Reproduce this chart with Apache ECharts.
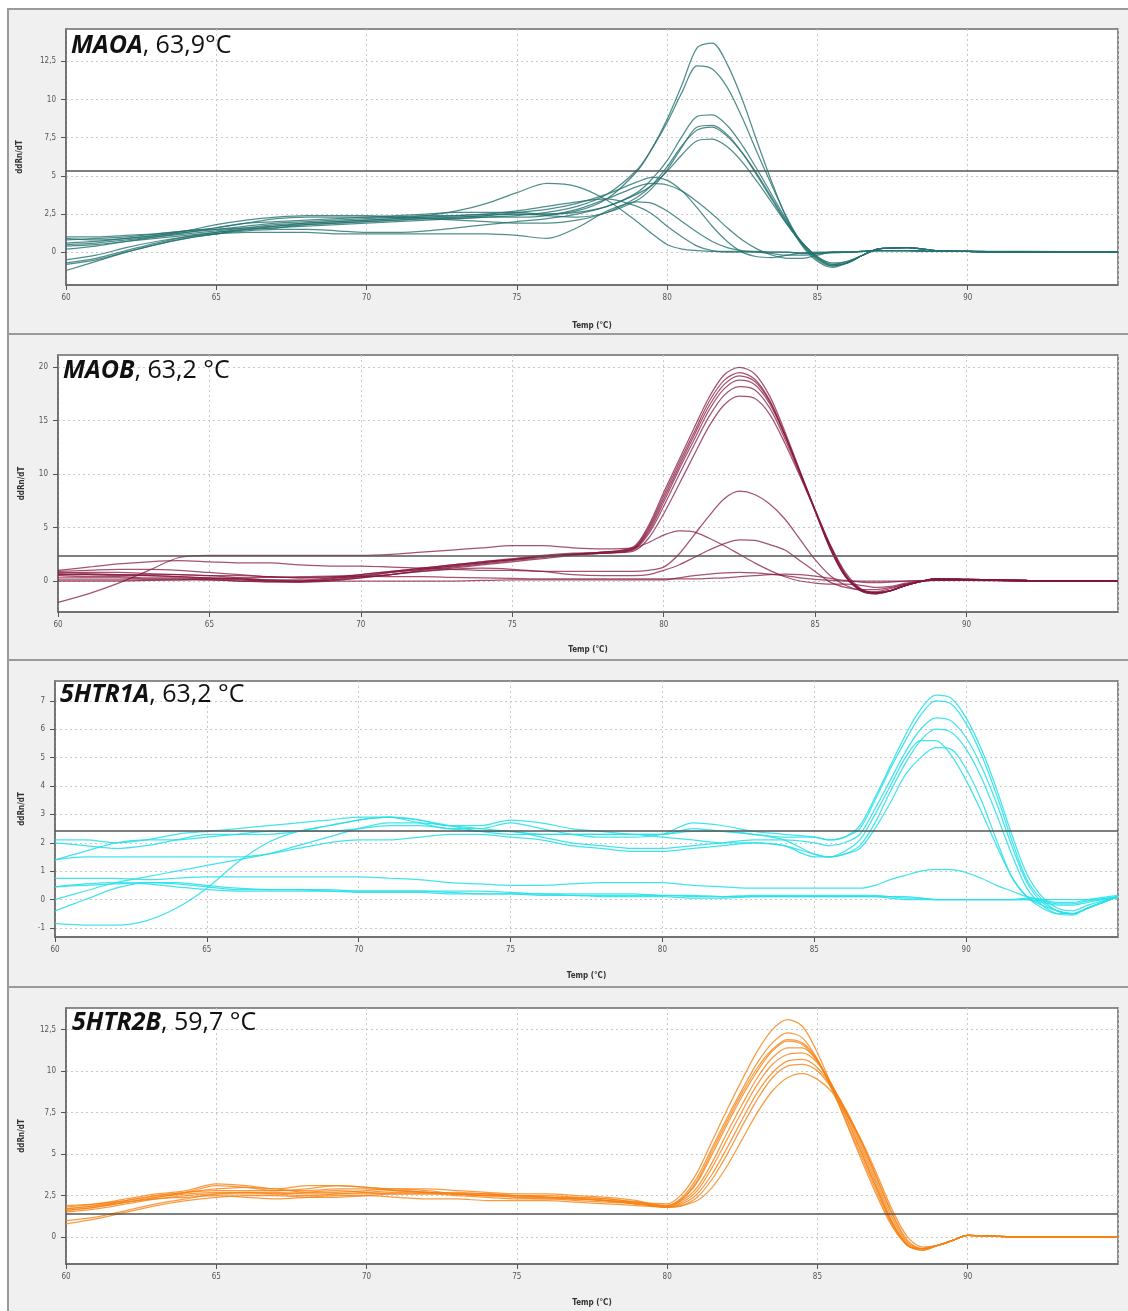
<!DOCTYPE html>
<html><head><meta charset="utf-8">
<script src="https://cdn.jsdelivr.net/npm/echarts@6/dist/echarts.min.js"></script>
<style>html,body{margin:0;padding:0;background:#fff}#c{width:1128px;height:1311px}</style>
</head><body><div id="c"></div>
<script>
// ---------------- DATA ----------------
// Panel 1: MAOA
const T1 = [60,61,62,63,64,65,66,67,68,69,70,71,72,73,74,75,76,77,78,79,79.5,80,80.5,81,81.5,82,82.5,83,83.5,84,84.5,85,85.5,86,86.5,87,88,89,90,92,95];
const maoaCurves = [
 [-0.7,-0.4,0.1,0.6,1.0,1.3,1.5,1.7,1.9,2.0, 2.1,2.2,2.3,2.3,2.4,2.5,2.5,2.7,3.5,5.3, 6.8,8.7,11.0,13.4,13.7,12.3,10.0,7.2,4.5,2.1, 0.4,-0.6,-1.0,-0.7,-0.2,0.2, 0.3,0.1,0.05,0.05,0.0],
 [-1.2,-0.6,0.0,0.5,0.9,1.2,1.5,1.6,1.7,1.8, 1.9,2.0,2.1,2.2,2.3,2.4,2.6,3.0,3.8,5.4, 6.8,8.5,10.5,12.2,12.0,10.8,8.8,6.5,4.3,2.2, 0.5,-0.5,-0.9,-0.7,-0.2,0.2, 0.3,0.1,0.05,0.0,0.0],
 [0.2,0.4,0.7,1.0,1.3,1.6,1.9,2.0,2.1,2.2, 2.3,2.4,2.5,2.6,2.6,2.6,2.5,2.6,3.0,3.9, 4.8,6.0,7.6,8.9,9.0,8.3,7.0,5.4,3.7,2.0, 0.6,-0.4,-0.9,-0.7,-0.2,0.2, 0.3,0.1,0.05,0.0,0.0],
 [0.9,0.8,0.9,1.1,1.3,1.5,1.7,1.9,2.0,2.1, 2.2,2.3,2.4,2.4,2.5,2.5,2.4,2.3,2.6,3.4, 4.2,5.4,6.9,8.2,8.3,7.7,6.5,5.0,3.4,1.8, 0.5,-0.4,-0.8,-0.7,-0.2,0.2, 0.3,0.1,0.05,0.0,0.0],
 [0.6,0.7,0.9,1.1,1.4,1.8,2.1,2.3,2.4,2.4, 2.4,2.3,2.2,2.1,2.0,1.9,1.9,2.1,2.6,3.6, 4.4,5.6,7.0,8.0,8.2,7.6,6.5,5.1,3.5,1.9, 0.6,-0.3,-0.8,-0.6,-0.2,0.2, 0.3,0.1,0.05,0.0,0.0],
 [-0.8,-0.5,0.0,0.5,0.9,1.2,1.4,1.5,1.5,1.4, 1.3,1.3,1.4,1.6,1.8,2.0,2.2,2.5,3.0,3.8, 4.4,5.3,6.4,7.3,7.4,6.9,5.9,4.6,3.2,1.8, 0.6,-0.3,-0.7,-0.6,-0.2,0.2, 0.3,0.1,0.05,0.0,0.0],
 [1.0,1.0,1.1,1.2,1.4,1.6,1.9,2.2,2.3,2.3, 2.3,2.3,2.4,2.7,3.2,3.9,4.5,4.3,3.4,2.0, 1.2,0.5,0.2,0.1,0.05,0.05,0.05,0.05,0.0,0.0, -0.1,-0.1,-0.05,0.0,0.05,0.1, 0.1,0.05,0.05,0.0,0.0],
 [0.4,0.5,0.7,0.9,1.1,1.3,1.5,1.6,1.8,1.9, 2.0,2.1,2.2,2.3,2.4,2.6,2.8,3.2,3.8,4.6, 4.9,4.7,4.0,2.9,1.7,0.7,0.0,-0.3,-0.35,-0.2, -0.05,0.0,0.0,0.0,0.05,0.1, 0.1,0.05,0.05,0.0,0.0],
 [0.8,0.9,1.0,1.2,1.4,1.5,1.6,1.7,1.8,1.9, 2.0,2.1,2.2,2.2,2.3,2.3,2.4,2.8,3.5,4.3, 4.5,4.4,4.0,3.3,2.5,1.6,0.8,0.2,-0.2,-0.4, -0.4,-0.2,0.0,0.0,0.05,0.1, 0.1,0.05,0.05,0.0,0.0],
 [0.5,0.6,0.8,1.0,1.2,1.4,1.6,1.8,1.9,2.0, 2.1,2.2,2.3,2.4,2.5,2.7,3.0,3.3,3.5,3.0, 2.5,1.7,1.0,0.4,0.1,0.0,0.0,0.0,0.0,0.0, -0.05,-0.05,0.0,0.0,0.05,0.1, 0.1,0.05,0.05,0.0,0.0],
 [-0.5,-0.2,0.3,0.7,1.0,1.2,1.3,1.3,1.3,1.2, 1.2,1.2,1.2,1.2,1.2,1.1,0.9,1.6,2.7,3.3, 3.2,2.7,2.0,1.3,0.7,0.3,0.1,0.0,-0.1,-0.2, -0.2,-0.1,0.0,0.0,0.05,0.1, 0.1,0.05,0.05,0.0,0.0]
];

// Panel 2: MAOB
const T2 = [60,61,62,63,64,65,66,67,68,69,70,71,72,73,74,75,76,77,78,79,79.5,80,80.5,81,81.5,82,82.5,83,83.5,84,84.5,85,85.5,86,86.5,87,87.5,88,89,90,92,95];
const maobCurves = [
 [0.8,0.7,0.6,0.5,0.4,0.3,0.2,0.1,0.1,0.3, 0.6,0.9,1.2,1.5,1.8,2.1,2.4,2.6,2.7,3.2, 5.2,8.3,11.3,14.3,17.2,19.3,20.0,19.4,17.3,14.0, 10.3,6.6,3.0,0.4,-0.9,-1.2,-0.9,-0.4, 0.2,0.15,0.05,0.0],
 [0.6,0.6,0.5,0.5,0.4,0.3,0.2,0.0,-0.1,0.1, 0.4,0.8,1.1,1.4,1.7,2.0,2.3,2.5,2.7,3.1, 5.0,8.0,11.0,13.9,16.8,18.8,19.5,18.9,16.9,13.7, 10.1,6.5,3.0,0.4,-0.9,-1.2,-0.9,-0.4, 0.2,0.15,0.05,0.0],
 [0.7,0.8,0.8,0.7,0.6,0.5,0.3,0.1,0.0,0.1, 0.3,0.6,1.0,1.3,1.6,1.9,2.2,2.5,2.6,3.0, 4.8,7.7,10.7,13.6,16.4,18.4,19.2,18.7,16.8,13.7, 10.2,6.6,3.1,0.5,-0.8,-1.1,-0.9,-0.4, 0.2,0.15,0.05,0.0],
 [0.5,0.4,0.4,0.3,0.3,0.2,0.1,0.0,0.0,0.2, 0.5,0.8,1.1,1.4,1.7,2.0,2.3,2.5,2.7,3.0, 4.6,7.4,10.4,13.2,16.0,18.0,18.8,18.4,16.6,13.6, 10.2,6.7,3.3,0.6,-0.8,-1.1,-0.9,-0.4, 0.2,0.15,0.05,0.0],
 [0.9,1.0,1.1,1.1,1.0,0.8,0.6,0.4,0.3,0.4, 0.6,0.9,1.2,1.5,1.8,2.0,2.3,2.5,2.6,2.9, 4.4,7.0,9.9,12.7,15.4,17.4,18.2,17.9,16.2,13.3, 10.0,6.6,3.3,0.6,-0.8,-1.1,-0.9,-0.4, 0.2,0.15,0.05,0.0],
 [0.3,0.3,0.3,0.2,0.2,0.1,0.0,-0.1,-0.1,0.0, 0.3,0.6,0.9,1.2,1.5,1.8,2.1,2.4,2.6,2.8, 4.0,6.3,9.0,11.8,14.5,16.5,17.3,17.1,15.6,12.9, 9.8,6.6,3.4,0.8,-0.7,-1.1,-0.9,-0.4, 0.2,0.15,0.05,0.0],
 [1.0,1.3,1.6,1.8,1.9,1.8,1.7,1.7,1.5,1.4, 1.4,1.3,1.2,1.1,1.0,1.0,0.9,0.9,0.9,0.9, 1.0,1.3,2.5,4.3,6.1,7.7,8.4,8.1,7.2,5.8, 3.9,2.0,0.5,-0.4,-0.9,-1.0,-0.7,-0.3, 0.1,0.1,0.0,0.0],
 [-2.0,-1.2,-0.2,1.0,2.2,2.4,2.4,2.4,2.4,2.4, 2.4,2.5,2.7,2.9,3.1,3.3,3.3,3.1,3.0,3.1, 3.6,4.3,4.7,4.6,4.0,3.3,2.5,1.7,1.0,0.4, 0.0,-0.2,-0.3,-0.3,-0.4,-0.6,-0.5,-0.2, 0.1,0.1,0.0,0.0],
 [0.6,0.6,0.6,0.6,0.6,0.5,0.5,0.4,0.3,0.3, 0.4,0.6,0.9,1.1,1.2,1.1,0.9,0.6,0.5,0.5, 0.6,1.0,1.5,2.2,2.9,3.5,3.85,3.8,3.4,2.9, 1.9,0.9,-0.1,-0.6,-0.8,-0.8,-0.6,-0.3, 0.1,0.1,0.0,0.0],
 [0.1,0.1,0.1,0.1,0.1,0.1,0.0,0.0,0.0,0.0, 0.0,0.0,0.0,0.0,0.05,0.1,0.1,0.1,0.1,0.1, 0.1,0.1,0.3,0.5,0.65,0.75,0.8,0.75,0.65,0.5, 0.3,0.15,0.05,0.0,0.0,0.0,0.0,0.0, 0.05,0.05,0.0,0.0],
 [0.0,0.0,0.0,0.05,0.1,0.2,0.3,0.35,0.4,0.45, 0.45,0.4,0.4,0.35,0.3,0.25,0.2,0.2,0.2,0.2, 0.2,0.2,0.2,0.2,0.25,0.3,0.4,0.5,0.6,0.65, 0.6,0.45,0.25,0.05,-0.1,-0.15,-0.1,0.0, 0.05,0.05,0.0,0.0]
];

// Panel 3: 5HTR1A
const T3 = [60,61,62,63,64,65,66,67,68,69,70,71,72,73,74,75,76,77,78,79,80,81,82,83,84,85,85.5,86,86.5,87,87.5,88,88.5,89,89.5,90,90.5,91,91.5,92,92.5,93,93.5,94,95];
const htr1aCurves = [
 [2.1,2.1,2.0,2.1,2.3,2.4,2.5,2.6,2.7,2.8, 2.9,2.9,2.8,2.6,2.6,2.8,2.7,2.5,2.4,2.3, 2.3,2.5,2.4,2.3,2.2,2.2, 2.1,2.2,2.6,3.6,4.7,5.8,6.7,7.2,7.1,6.4,5.3,3.9,2.3,0.9,0.1,-0.3,-0.4,-0.2, 0.1],
 [2.0,1.9,1.8,1.9,2.1,2.3,2.3,2.3,2.4,2.6, 2.8,2.9,2.7,2.5,2.5,2.7,2.5,2.3,2.2,2.2, 2.3,2.7,2.6,2.4,2.3,2.2, 2.1,2.2,2.5,3.5,4.6,5.6,6.5,7.0,6.9,6.2,5.1,3.7,2.1,0.7,0.0,-0.4,-0.5,-0.3, 0.1],
 [1.4,1.7,2.0,2.1,2.1,2.2,2.3,2.4,2.4,2.4, 2.5,2.6,2.6,2.5,2.4,2.4,2.2,2.0,1.9,1.8, 1.8,1.9,2.0,2.1,2.1,2.0, 1.9,2.0,2.3,3.2,4.2,5.2,6.0,6.4,6.3,5.7,4.7,3.4,1.9,0.6,-0.1,-0.4,-0.5,-0.3, 0.1],
 [1.4,1.5,1.5,1.5,1.5,1.5,1.5,1.6,1.8,2.0, 2.1,2.1,2.2,2.3,2.3,2.2,2.1,1.9,1.8,1.7, 1.7,1.8,1.9,2.0,1.9,1.6, 1.5,1.6,1.9,2.7,3.8,4.8,5.6,6.0,5.9,5.3,4.3,3.0,1.6,0.4,-0.2,-0.5,-0.55,-0.3, 0.1],
 [0.0,0.3,0.6,0.8,1.0,1.2,1.4,1.6,1.9,2.2, 2.5,2.7,2.7,2.6,2.5,2.4,2.3,2.3,2.3,2.3, 2.2,2.1,2.0,2.0,1.9,1.5, 1.5,1.7,2.1,3.0,4.0,5.0,5.6,5.6,5.1,4.2,3.1,1.9,0.8,0.1,-0.3,-0.5,-0.5,-0.3, 0.1],
 [-0.85,-0.9,-0.9,-0.75,-0.3,0.4,1.3,2.0,2.4,2.6, 2.8,2.9,2.8,2.6,2.4,2.3,2.3,2.3,2.3,2.3, 2.3,2.4,2.4,2.3,2.1,1.6, 1.5,1.6,1.8,2.5,3.4,4.4,5.0,5.35,5.3,4.6,3.5,2.1,0.8,0.1,-0.2,-0.4,-0.5,-0.3, 0.1],
 [0.75,0.75,0.75,0.7,0.75,0.8,0.8,0.8,0.8,0.8, 0.8,0.75,0.7,0.6,0.55,0.5,0.5,0.55,0.6,0.6, 0.6,0.5,0.45,0.4,0.4,0.4, 0.4,0.4,0.4,0.5,0.7,0.85,1.0,1.05,1.05,0.95,0.75,0.5,0.3,0.1,0.0,0.0,0.0,0.0, 0.05],
 [0.45,0.55,0.6,0.55,0.45,0.35,0.3,0.3,0.3,0.3, 0.25,0.25,0.25,0.2,0.2,0.2,0.2,0.15,0.15,0.15, 0.15,0.1,0.1,0.15,0.15,0.15, 0.15,0.15,0.15,0.15,0.1,0.1,0.05,0.0,0.0,0.0,0.0,0.0,0.0,0.05,0.0,-0.1,-0.1,0.0, 0.15],
 [0.45,0.5,0.55,0.6,0.55,0.45,0.35,0.35,0.35,0.3, 0.3,0.3,0.3,0.25,0.2,0.2,0.15,0.15,0.1,0.1, 0.1,0.05,0.05,0.1,0.1,0.1, 0.1,0.1,0.1,0.1,0.05,0.0,0.0,0.0,0.0,0.0,0.0,0.0,0.0,0.0,-0.1,-0.2,-0.2,-0.1, 0.1],
 [-0.4,0.0,0.4,0.6,0.6,0.5,0.4,0.35,0.35,0.35, 0.3,0.3,0.3,0.3,0.3,0.25,0.2,0.2,0.2,0.2, 0.15,0.15,0.1,0.1,0.1,0.1, 0.1,0.1,0.1,0.1,0.1,0.05,0.05,0.0,0.0,0.0,0.0,0.0,0.0,0.0,-0.05,-0.15,-0.15,-0.05, 0.1]
];

// Panel 4: 5HTR2B
const T4 = [60,61,62,63,64,65,66,67,68,69,70,71,72,73,74,75,76,77,78,79,80,80.5,81,81.5,82,82.5,83,83.5,84,84.5,85,85.5,86,86.5,87,87.5,88,88.5,89,89.5,90,91,92,95];
const htr2bCurves = [
 [1.9,2.0,2.2,2.5,2.7,2.8,2.8,2.8,2.8,2.9, 2.9,2.8,2.7,2.6,2.6,2.5,2.5,2.4,2.3,2.1, 2.0, 2.6,3.9,5.8,7.7,9.5,11.2,12.5,13.1,12.7,11.1, 9.0,6.7,4.5,2.4,0.6,-0.5,-0.8,-0.5,-0.2,0.1, 0.05,0.0,0.0],
 [1.7,1.9,2.2,2.5,2.7,2.9,3.0,2.9,2.7,2.7, 2.8,2.9,2.8,2.6,2.5,2.5,2.4,2.3,2.2,2.0, 1.9, 2.4,3.6,5.4,7.2,8.9,10.5,11.7,12.3,12.0,10.7, 8.8,6.8,4.7,2.6,0.7,-0.5,-0.8,-0.5,-0.2,0.1, 0.05,0.0,0.0],
 [1.5,1.7,2.0,2.3,2.5,2.6,2.6,2.6,2.7,2.8, 2.7,2.6,2.6,2.7,2.6,2.4,2.3,2.3,2.2,2.1, 1.9, 2.3,3.3,5.0,6.8,8.5,10.0,11.2,11.8,11.6,10.6, 9.0,7.1,5.0,2.8,0.8,-0.5,-0.7,-0.5,-0.2,0.1, 0.05,0.0,0.0],
 [0.8,1.1,1.5,1.9,2.2,2.4,2.5,2.5,2.4,2.4, 2.5,2.6,2.6,2.5,2.4,2.3,2.3,2.2,2.1,2.0, 1.8, 2.2,3.0,4.5,6.3,8.0,9.6,10.8,11.4,11.4,10.6, 9.1,7.3,5.2,3.0,0.9,-0.5,-0.7,-0.5,-0.2,0.1, 0.05,0.0,0.0],
 [1.6,1.8,2.1,2.4,2.7,3.1,3.0,2.8,2.9,3.1, 3.0,2.9,2.9,2.8,2.7,2.6,2.6,2.5,2.4,2.2, 1.8, 2.1,2.8,4.2,5.9,7.6,9.2,10.4,11.0,11.1,10.5, 9.1,7.4,5.4,3.2,1.1,-0.4,-0.7,-0.5,-0.2,0.1, 0.05,0.0,0.0],
 [1.6,1.8,2.1,2.3,2.4,2.5,2.4,2.3,2.4,2.5, 2.5,2.4,2.3,2.3,2.2,2.2,2.2,2.1,2.0,1.9, 1.8, 2.0,2.6,3.8,5.4,7.1,8.7,9.9,10.6,10.7,10.2, 9.0,7.5,5.6,3.4,1.3,-0.3,-0.7,-0.5,-0.2,0.1, 0.05,0.0,0.0],
 [1.0,1.2,1.6,2.0,2.3,2.6,2.7,2.6,2.5,2.6, 2.7,2.8,2.7,2.6,2.5,2.5,2.4,2.3,2.2,2.0, 1.8, 1.9,2.4,3.5,5.0,6.7,8.3,9.6,10.3,10.4,10.0, 8.9,7.4,5.6,3.5,1.4,-0.2,-0.7,-0.5,-0.2,0.1, 0.05,0.0,0.0],
 [1.8,2.0,2.3,2.6,2.8,3.2,3.1,2.9,3.1,3.1, 3.0,2.8,2.7,2.6,2.6,2.5,2.4,2.4,2.3,2.1, 1.8, 1.9,2.2,3.0,4.3,5.9,7.5,8.8,9.6,9.85,9.5, 8.7,7.3,5.7,3.7,1.6,0.0,-0.6,-0.5,-0.2,0.1, 0.05,0.0,0.0],
 [1.7,1.9,2.1,2.4,2.6,2.7,2.7,2.7,2.6,2.6, 2.6,2.7,2.7,2.6,2.5,2.4,2.4,2.3,2.2,2.0, 1.9, 2.3,3.4,5.2,7.0,8.7,10.2,11.3,11.9,11.7,10.7, 8.9,7.0,4.9,2.8,0.8,-0.5,-0.7,-0.5,-0.2,0.1, 0.05,0.0,0.0]
];

const geneNames = ['MAOA','MAOB','5HTR1A','5HTR2B'];
const tmLabels = [', 63,9°C', ', 63,2 °C', ', 63,2 °C', ', 59,7 °C'];
const thresholds = [5.35, 2.41, 2.42, 1.38];
const yTicks = [[0,2.5,5,7.5,10,12.5],[0,5,10,15,20],[-1,0,1,2,3,4,5,6,7],[0,2.5,5,7.5,10,12.5]];
const yRanges = [[-2.15,14.62],[-2.9,21.15],[-1.32,7.7],[-1.62,13.8]];
const xMin = 60, xMax = 95, xStep = 5;
const yName = 'ddRn/dT', xName = 'Temp (°C)';

// ---------------- LAYOUT / STYLE ----------------
const temps = [T1,T2,T3,T4];
const curves = [maoaCurves, maobCurves, htr1aCurves, htr2bCurves];
const colors = ['rgba(36,114,110,0.8)','rgba(132,22,62,0.74)','rgba(40,224,232,0.88)','rgba(246,130,20,0.8)'];
const L = [
 {left:66, top:29,  h:256, yGap:42, xGap:37, tx:71, ty:46,  pTop:9,   pH:325},
 {left:58, top:355, h:257, yGap:32, xGap:34, tx:63, ty:371, pTop:334, pH:326},
 {left:55, top:681, h:256, yGap:29, xGap:35, tx:60, ty:695, pTop:660, pH:327},
 {left:66, top:1008,h:256, yGap:40, xGap:35, tx:72, ty:1023,pTop:987, pH:330}
];
const labFont = "'Liberation Sans Narrow','DejaVu Sans Condensed','Liberation Sans',sans-serif";
const fmt = v => String(v).replace('.', ',');

const grid=[], xAxis=[], yAxis=[], series=[], graphic=[];
L.forEach((p,i)=>{
  graphic.push({type:'rect', z:-10, shape:{x:8, y:p.pTop, width:1130, height:p.pH},
    style:{fill:'#f0f0f0', stroke:'#9a9a9a', lineWidth:2}});
  graphic.push({type:'text', z:100, x:p.tx, y:p.ty, style:{
    text:'{b|'+geneNames[i]+'}{n|'+tmLabels[i]+'}', verticalAlign:'middle', align:'left',
    rich:{b:{fontFamily:'Open Sans', fontSize:25, fontWeight:'bold', fontStyle:'italic', fill:'#111'},
          n:{fontFamily:'Open Sans', fontSize:25, fill:'#111'}}}});
  grid.push({left:p.left, top:p.top, right:10, height:p.h, show:true, backgroundColor:'#fff',
    borderColor:'#6a6a6a', borderWidth:1.5, containLabel:false});
  xAxis.push({type:'value', gridIndex:i, min:xMin, max:xMax, interval:xStep,
    name:xName, nameLocation:'middle', nameGap:p.xGap,
    nameTextStyle:{fontSize:8, fontWeight:'bold', color:'#333', fontFamily:labFont},
    axisLine:{onZero:false, lineStyle:{color:'#6a6a6a', width:1.5}},
    axisTick:{show:true, length:5, lineStyle:{color:'#555'}},
    axisLabel:{fontSize:8, color:'#555', margin:9, fontFamily:labFont, showMaxLabel:false},
    splitLine:{show:true, lineStyle:{color:'#c9c9c9', type:[2,3], width:1}}});
  yAxis.push({type:'value', gridIndex:i, min:yRanges[i][0], max:yRanges[i][1],
    name:yName, nameLocation:'middle', nameGap:p.yGap, nameRotate:90,
    nameTextStyle:{fontSize:8, fontWeight:'bold', color:'#333', fontFamily:labFont},
    axisLine:{show:true, onZero:false, lineStyle:{color:'#6a6a6a', width:1.5}},
    axisTick:{show:true, length:5, customValues:yTicks[i], lineStyle:{color:'#555'}},
    axisLabel:{fontSize:8, color:'#555', margin:10, fontFamily:labFont, customValues:yTicks[i], formatter:fmt},
    splitLine:{show:true, lineStyle:{color:'#c9c9c9', type:[2,3], width:1}}});
  curves[i].forEach((c,k)=>{
    const s = {type:'line', xAxisIndex:i, yAxisIndex:i, showSymbol:false, smooth:0.3,
      silent:true, animation:false, z:2,
      lineStyle:{color:colors[i], width:1.25}, itemStyle:{color:colors[i]},
      data: temps[i].map((t,j)=>[t, c[j]])};
    if (k===0) s.markLine = {silent:true, symbol:'none', animation:false, z:5,
      label:{show:false}, lineStyle:{color:'#555', width:1.5, type:'solid'},
      data:[{yAxis:thresholds[i]}]};
    series.push(s);
  });
});

const chart = echarts.init(document.getElementById('c'));
chart.setOption({backgroundColor:'#ffffff', animation:false, grid, xAxis, yAxis, series, graphic});
</script></body></html>
